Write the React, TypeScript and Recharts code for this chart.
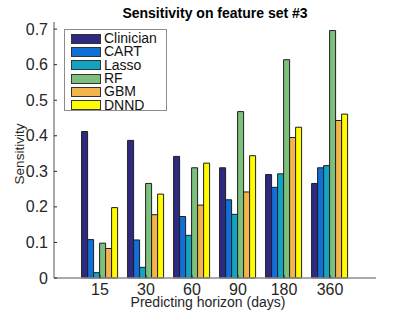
import { Bar, BarChart, Label, Legend, XAxis, YAxis } from "recharts";

const categories = ["15", "30", "60", "90", "180", "360"];
const clinician = [0.412, 0.387, 0.342, 0.31, 0.291, 0.266];
const cart = [0.108, 0.107, 0.173, 0.22, 0.255, 0.31];
const lasso = [0.015, 0.03, 0.12, 0.179, 0.293, 0.316];
const rf = [0.098, 0.266, 0.31, 0.468, 0.614, 0.696];
const gbm = [0.083, 0.178, 0.205, 0.242, 0.395, 0.443];
const dnnd = [0.198, 0.236, 0.323, 0.344, 0.424, 0.461];
const yTicks = [0, 0.1, 0.2, 0.3, 0.4, 0.5, 0.6, 0.7];

const seriesNames = ["Clinician", "CART", "Lasso", "RF", "GBM", "DNND"];
const seriesColors = ["#2e2a82", "#116fd8", "#13a4c2", "#7dc07b", "#f3b54b", "#fffb00"];

const seriesValues = [clinician, cart, lasso, rf, gbm, dnnd];
const data = categories.map((horizon, i) => {
  const row: Record<string, string | number> = { horizon };
  seriesNames.forEach((name, s) => {
    row[name] = seriesValues[s][i];
  });
  return row;
});

if (typeof document !== "undefined") {
  document.body.style.margin = "0";
}

const font = "'Liberation Sans', Arial, Helvetica, sans-serif";
const textColor = "#262626";
const axisColor = "#8c8c8c";

function YTick({ x, y, payload }: { x: number; y: number; payload: { value: number } }) {
  const v = payload.value;
  return (
    <g>
      <line x1={x + 6} x2={x + 9} y1={y} y2={y} stroke={textColor} strokeWidth={1} />
      <text x={x} y={y} dy={5.5} textAnchor="end" fontSize={16} fontFamily={font} fill={textColor}>
        {v === 0 ? "0" : v.toFixed(1)}
      </text>
    </g>
  );
}

function XTick({ x, y, payload }: { x: number; y: number; payload: { value: string } }) {
  return (
    <g>
      <line x1={x} x2={x} y1={y - 6} y2={y - 9} stroke={textColor} strokeWidth={1} />
      <text x={x} y={y} dy={11} textAnchor="middle" fontSize={16} fontFamily={font} fill={textColor}>
        {payload.value}
      </text>
    </g>
  );
}

function LegendBox() {
  return (
    <div
      style={{
        width: 101,
        height: 78,
        border: `1px solid ${axisColor}`,
        background: "#fff",
        boxSizing: "content-box",
        fontFamily: font,
        fontSize: 14,
        color: "#111",
        paddingTop: 2
      }}
    >
      {seriesNames.map((name, i) => (
        <div key={name} style={{ display: "flex", alignItems: "center", height: 13.3 }}>
          <div
            style={{
              marginLeft: 6,
              width: 28,
              height: 8,
              background: seriesColors[i],
              border: "1px solid #333"
            }}
          />
          <span style={{ marginLeft: 3, lineHeight: "13px" }}>{name}</span>
        </div>
      ))}
    </div>
  );
}

export default function App() {
  return (
    <div style={{ position: "relative", width: 415, height: 312, background: "#fff", overflow: "hidden" }}>
      <div
        style={{
          position: "absolute",
          left: 15,
          width: 400,
          top: 5,
          textAlign: "center",
          fontFamily: font,
          fontWeight: 700,
          fontSize: 14,
          color: "#000"
        }}
      >
        Sensitivity on feature set #3
      </div>
      <BarChart
        width={415}
        height={312}
        data={data}
        margin={{ top: 22, right: 39, bottom: 0, left: 0 }}
        barCategoryGap="10%"
        barGap={0}
      >
        <XAxis
          dataKey="horizon"
          height={34}
          padding={{ left: 23, right: 23 }}
          axisLine={{ stroke: axisColor, strokeWidth: 1.5 }}
          tickLine={false}
          tickSize={6}
          tickMargin={0}
          tick={XTick}
          interval={0}
        >
          <Label
            content={({ viewBox }: any) => (
              <text
                x={viewBox.x + viewBox.width / 2 - 7}
                y={307}
                textAnchor="middle"
                fontSize={14}
                fontFamily={font}
                fill={textColor}
              >
                Predicting horizon (days)
              </text>
            )}
          />
        </XAxis>
        <YAxis
          width={54}
          domain={[0, 0.72]}
          ticks={yTicks}
          axisLine={{ stroke: axisColor, strokeWidth: 1.5 }}
          tickLine={false}
          tickSize={6}
          tickMargin={0}
          tick={YTick}
        >
          <Label
            content={() => (
              <text
                transform="translate(24, 154) rotate(-90)"
                textAnchor="middle"
                fontSize={13.5}
                fontFamily={font}
                fill={textColor}
              >
                Sensitivity
              </text>
            )}
          />
        </YAxis>
        <Legend
          content={<LegendBox />}
          layout="horizontal"
          verticalAlign="middle"
          align="center"
          wrapperStyle={{ left: 64, top: 29, width: 103 }}
        />
        {seriesNames.map((name, i) => (
          <Bar
            key={name}
            dataKey={name}
            fill={seriesColors[i]}
            stroke="#1e1e1e"
            strokeWidth={1}
            isAnimationActive={false}
          />
        ))}
      </BarChart>
    </div>
  );
}
